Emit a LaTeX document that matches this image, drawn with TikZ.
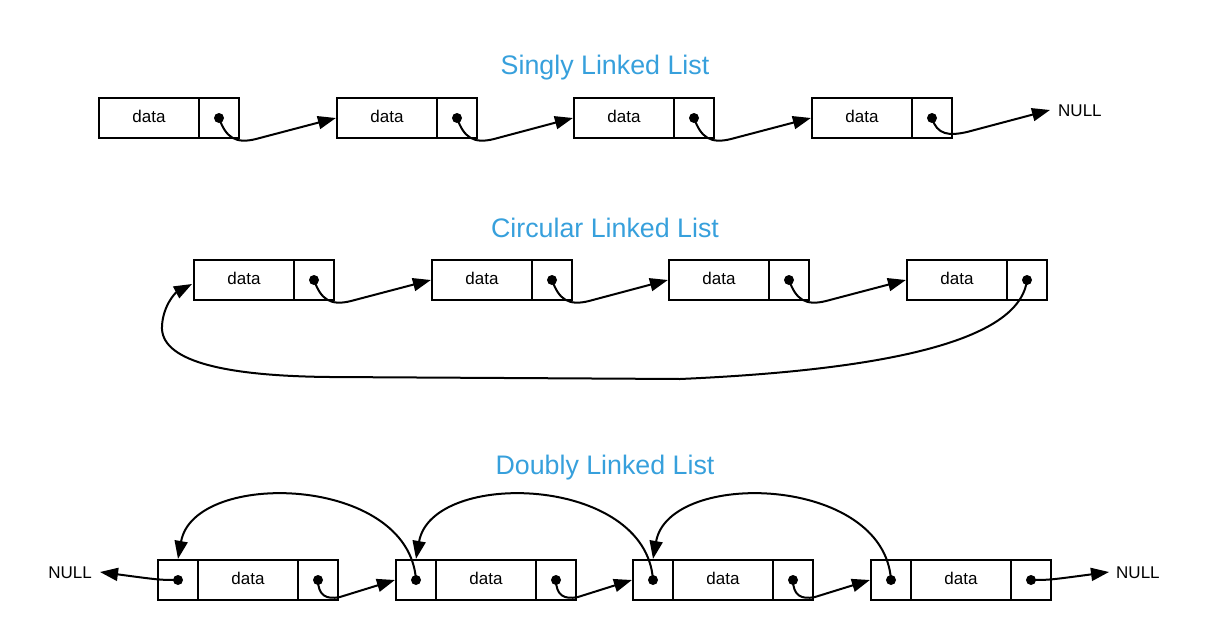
\documentclass[tikz,border=0pt]{standalone}
\usepackage{fontspec}
\setmainfont{Liberation Sans}
\usetikzlibrary{arrows.meta}
\definecolor{titleblue}{RGB}{55,160,220}
\begin{document}
\begin{tikzpicture}[x=1pt,y=-1pt,
  cell/.style={draw,line width=2.2pt,minimum height=40pt,inner sep=0pt,text depth=4pt,font=\fontsize{17}{20}\selectfont},
  datacell/.style={cell,minimum width=100pt},
  ptrcell/.style={cell,minimum width=40pt},
  dot/.style={circle,fill,inner sep=0pt,minimum size=10pt},
  title/.style={text=titleblue,font=\fontsize{26.8}{30}\selectfont},
  label/.style={font=\fontsize{17}{20}\selectfont,inner sep=0pt},
  link/.style={line width=2pt,-{Triangle[length=18pt,width=13pt]}},
]
\useasboundingbox (0,0) rectangle (1210,640);

% ---------- Singly linked list ----------
\node[title] (t1) at (605,68) {Singly Linked List};
\node[datacell] (s1d) at (149,118) {data};
\node[ptrcell]  (s1n) at (219,118) {};
\node[datacell] (s2d) at (387,118) {data};
\node[ptrcell]  (s2n) at (457,118) {};
\node[datacell] (s3d) at (624,118) {data};
\node[ptrcell]  (s3n) at (694,118) {};
\node[datacell] (s4d) at (862,118) {data};
\node[ptrcell]  (s4n) at (932,118) {};
\node[dot] (s1p) at (s1n.center) {};
\node[dot] (s2p) at (s2n.center) {};
\node[dot] (s3p) at (s3n.center) {};
\node[dot] (s4p) at (s4n.center) {};
\node[label,anchor=west] (snull) at (1058,111) {NULL};
\coordinate (snullend) at (1050,110);
\draw[link] (s1p.center) .. controls +(7,20) and +(-20,5) .. ++(37,21) -- (s2d.west);
\draw[link] (s2p.center) .. controls +(7,20) and +(-20,5) .. ++(37,21) -- (s3d.west);
\draw[link] (s3p.center) .. controls +(7,20) and +(-20,5) .. ++(37,21) -- (s4d.west);
\draw[link] (s4p.center) .. controls +(5,17) and +(-18,4) .. ++(35,14) -- (snullend);

% ---------- Circular linked list ----------
\node[title] (t2) at (605,228) {Circular Linked List};
\node[datacell] (c1d) at (244,280) {data};
\node[ptrcell]  (c1n) at (314,280) {};
\node[datacell] (c2d) at (482,280) {data};
\node[ptrcell]  (c2n) at (552,280) {};
\node[datacell] (c3d) at (719,280) {data};
\node[ptrcell]  (c3n) at (789,280) {};
\node[datacell] (c4d) at (957,280) {data};
\node[ptrcell]  (c4n) at (1027,280) {};
\node[dot] (c1p) at (c1n.center) {};
\node[dot] (c2p) at (c2n.center) {};
\node[dot] (c3p) at (c3n.center) {};
\node[dot] (c4p) at (c4n.center) {};
\draw[link] (c1p.center) .. controls +(7,20) and +(-20,5) .. ++(37,21) -- (c2d.west);
\draw[link] (c2p.center) .. controls +(7,20) and +(-20,5) .. ++(37,21) -- (c3d.west);
\draw[link] (c3p.center) .. controls +(7,20) and +(-20,5) .. ++(37,21) -- (c4d.west);
\coordinate (cback) at (192,284);
\draw[link] (c4p.center) .. controls (1021,330) and (930,368) .. (680,379)
  -- (330,377) .. controls (220,376) and (160,360) .. (162,326)
  .. controls (163,306) and (175,293) .. (cback);

% ---------- Doubly linked list ----------
\node[title] (t3) at (605,468) {Doubly Linked List};
\node[ptrcell]  (d1p) at (178,580) {};
\node[datacell] (d1d) at (248,580) {data};
\node[ptrcell]  (d1n) at (318,580) {};
\node[ptrcell]  (d2p) at (416,580) {};
\node[datacell] (d2d) at (486,580) {data};
\node[ptrcell]  (d2n) at (556,580) {};
\node[ptrcell]  (d3p) at (653,580) {};
\node[datacell] (d3d) at (723,580) {data};
\node[ptrcell]  (d3n) at (793,580) {};
\node[ptrcell]  (d4p) at (891,580) {};
\node[datacell] (d4d) at (961,580) {data};
\node[ptrcell]  (d4n) at (1031,580) {};
\foreach \n in {d1p,d1n,d2p,d2n,d3p,d3n,d4p,d4n}{\node[dot] (\n dot) at (\n.center) {};}
\node[label,anchor=east] (dnullL) at (92,573) {NULL};
\node[label,anchor=west] (dnullR) at (1116,573) {NULL};
\coordinate (dnullLend) at (100,572);
\coordinate (dnullRend) at (1109,572);
% next links
\draw[link] (d1ndot.center) .. controls +(0,15) and +(-14,3) .. ++(22,17) -- (d2p.west);
\draw[link] (d2ndot.center) .. controls +(0,15) and +(-14,3) .. ++(22,17) -- (d3p.west);
\draw[link] (d3ndot.center) .. controls +(0,15) and +(-14,3) .. ++(22,17) -- (d4p.west);
% prev links
\draw[link] (d2pdot.center) .. controls +(-7,-105) and +(16,-90) .. (d1p.north);
\draw[link] (d3pdot.center) .. controls +(-7,-105) and +(16,-90) .. (d2p.north);
\draw[link] (d4pdot.center) .. controls +(-7,-105) and +(16,-90) .. (d3p.north);
% NULL ends
\draw[link] (d1pdot.center) .. controls (160,580) .. (dnullLend);
\draw[link] (d4ndot.center) .. controls (1049,580) .. (dnullRend);
\end{tikzpicture}
\end{document}
